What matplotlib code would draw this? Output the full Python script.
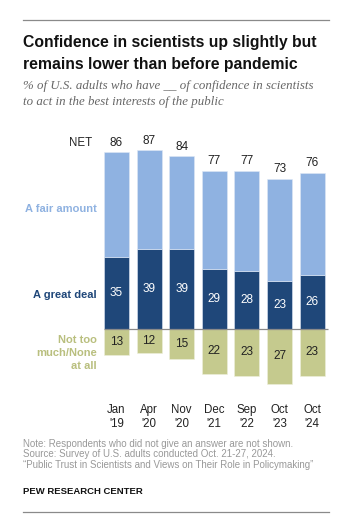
import matplotlib.pyplot as plt
import numpy as np

# survey waves
months = ["Jan\n'19", "Apr\n'20", "Nov\n'20", "Dec\n'21", "Sep\n'22", "Oct\n'23", "Oct\n'24"]
net = [86, 87, 84, 77, 77, 73, 76]
great_deal = [35, 39, 39, 29, 28, 23, 26]
fair_amount = [51, 48, 45, 48, 49, 50, 50]
not_too_much = [13, 12, 15, 22, 23, 27, 23]

c_fair = '#8FB2E1'
c_great = '#1F4779'
c_not = '#C5CA8E'
c_not_txt = '#B9BF7E'

plt.rcParams['font.family'] = ['Liberation Sans', 'DejaVu Sans']

W, H = 350, 528
fig = plt.figure(figsize=(W / 100, H / 100), dpi=100)

def fx(px):
    return px / W

def fy(py):
    return 1 - py / H

# rules
fig.add_artist(plt.Line2D([fx(23), fx(329)], [fy(20), fy(20)], color='#8a8a8a', lw=0.9))
fig.add_artist(plt.Line2D([fx(23), fx(329)], [fy(512), fy(512)], color='#8a8a8a', lw=0.9))

# title / subtitle
fig.text(fx(23), fy(43), 'Confidence in scientists up slightly but', fontsize=11.3,
         fontweight='bold', va='center', color='#111111')
fig.text(fx(23), fy(64), 'remains lower than before pandemic', fontsize=11.3,
         fontweight='bold', va='center', color='#111111')
fig.text(fx(23), fy(86), '% of U.S. adults who have __ of confidence in scientists',
         fontsize=9.3, style='italic', family='Liberation Serif', va='center', color='#666666')
fig.text(fx(23), fy(101.5), 'to act in the best interests of the public',
         fontsize=9.3, style='italic', family='Liberation Serif', va='center', color='#666666')

# chart axes: y px = 328.5 - 2.05 * value
ax = fig.add_axes([fx(96.9), fy(390), (331.7 - 96.9) / W, 250 / H])
ax.set_xlim(-0.6, 6.6)
ax.set_ylim(-30, 92)
ax.axis('off')

x = np.arange(len(months))
bw = 0.77
ax.bar(x, great_deal, bw, color=c_great, edgecolor='#dfe8f5', lw=0.4)
ax.bar(x, fair_amount, bw, bottom=great_deal, color=c_fair, edgecolor='#dfe8f5', lw=0.4)
ax.bar(x, [-v for v in not_too_much], bw, color=c_not, edgecolor='#eef0dc', lw=0.4)
ax.hlines(0, -0.385, 6.5, color='#8a8a8a', lw=0.9, zorder=3)

for i in x:
    ax.annotate(str(net[i]), (i, net[i]), xytext=(0, 6.8), textcoords='offset points',
                ha='center', va='center', fontsize=8.5, color='#222222')
    ax.text(i, great_deal[i] / 2, str(great_deal[i]), ha='center', va='center',
            fontsize=8.5, color='white')
    ax.text(i, -not_too_much[i] / 2, str(not_too_much[i]), ha='center', va='center',
            fontsize=8.5, color='#222222')
    ax.text(i, -43, months[i], ha='center', va='center', fontsize=8.3,
            color='#222222', linespacing=1.2, clip_on=False)

# row labels
fig.text(fx(92), fy(143), 'NET', ha='right', va='center', fontsize=8.3, color='#222222')
fig.text(fx(97), fy(209), 'A fair amount', ha='right', va='center', fontsize=8,
         fontweight='bold', color=c_fair)
fig.text(fx(97), fy(295), 'A great deal', ha='right', va='center', fontsize=8,
         fontweight='bold', color=c_great)
fig.text(fx(97), fy(353), 'Not too\nmuch/None\nat all', ha='right', va='center',
         fontsize=8, fontweight='bold', color=c_not_txt, linespacing=1.4)

# notes
notes = ['Note: Respondents who did not give an answer are not shown.',
         'Source: Survey of U.S. adults conducted Oct. 21-27, 2024.',
         '\u201cPublic Trust in Scientists and Views on Their Role in Policymaking\u201d']
for k, line in enumerate(notes):
    fig.text(fx(23), fy(444 + 10.3 * k), line, fontsize=7, va='center', color='#999999')
fig.text(fx(23), fy(491), 'PEW RESEARCH CENTER', fontsize=6.8, fontweight='bold',
         va='center', color='#111111')

fig.savefig('out.png', dpi=100)
